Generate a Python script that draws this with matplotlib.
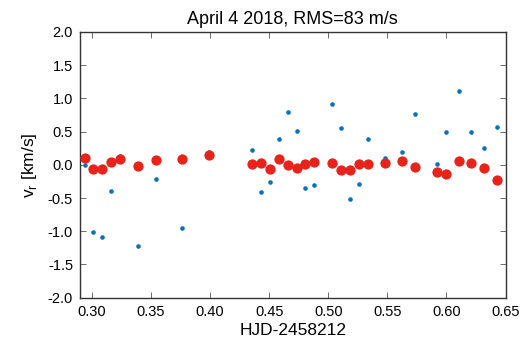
import matplotlib
matplotlib.use("Agg")
import matplotlib.pyplot as plt

plt.rcParams['font.family'] = ['Liberation Sans', 'DejaVu Sans']

hjd = [0.2938, 0.3011, 0.3087, 0.3160, 0.3239, 0.3389, 0.3541, 0.3763, 0.3988,
       0.4356, 0.4432, 0.4508, 0.4582, 0.4658, 0.4734, 0.4807, 0.4883, 0.5032,
       0.5108, 0.5184, 0.5258, 0.5334, 0.5483, 0.5627, 0.5733, 0.5919, 0.5995,
       0.6105, 0.6212, 0.6322, 0.6432]
vr_raw = [-0.008, -1.006, -1.092, -0.399, 0.14, -1.223, -0.208, -0.946, 0.20,
          0.229, -0.414, -0.259, 0.384, 0.795, 0.505, -0.354, -0.309, 0.911,
          0.554, -0.509, -0.283, 0.395, 0.10, 0.188, 0.761, 0.02, 0.50,
          1.107, 0.489, 0.248, 0.569]
vr_corr = [0.108, -0.057, -0.057, 0.042, 0.083, -0.023, 0.078, 0.087, 0.148,
           0.012, 0.033, -0.068, 0.087, -0.008, -0.042, 0.008, 0.042, 0.033,
           -0.083, -0.072, 0.008, 0.008, 0.027, 0.057, -0.038, -0.113, -0.133,
           0.057, 0.027, -0.042, -0.229]

xticks = [0.30, 0.35, 0.40, 0.45, 0.50, 0.55, 0.60, 0.65]
yticks = [-2.0, -1.5, -1.0, -0.5, 0.0, 0.5, 1.0, 1.5, 2.0]

fig = plt.figure(figsize=(5.25, 3.44), dpi=100)
ax = fig.add_axes([0.1524, 0.1346, 0.8105, 0.7724])

ax.plot(hjd, vr_raw, 'o', color='#0a72b8', ms=3.3, mec='none', zorder=2)
ax.plot(hjd, vr_corr, 'o', color='#e8231a', ms=7.4, mec='none', zorder=3)

ax.set_xlim(0.29, 0.65)
ax.set_ylim(-2.0, 2.0)
ax.set_xticks(xticks)
ax.set_xticklabels([f"{t:.2f}" for t in xticks])
ax.set_yticks(yticks)
ax.set_yticklabels([f"{t:.1f}" for t in yticks])
ax.tick_params(direction='in', top=True, right=True, labelsize=10.5,
               length=4, width=0.6, color='#555555', pad=5)
for s in ax.spines.values():
    s.set_color('#333333')
    s.set_linewidth(1.0)

ax.set_xlabel('HJD-2458212', fontsize=12.5, labelpad=3)
ax.set_ylabel(r'v$_\mathregular{r}$ [km/s]', fontsize=12.5, labelpad=6)
ax.set_title('April 4 2018, RMS=83 m/s', fontsize=13, pad=6)

fig.savefig('out.png', dpi=100)
